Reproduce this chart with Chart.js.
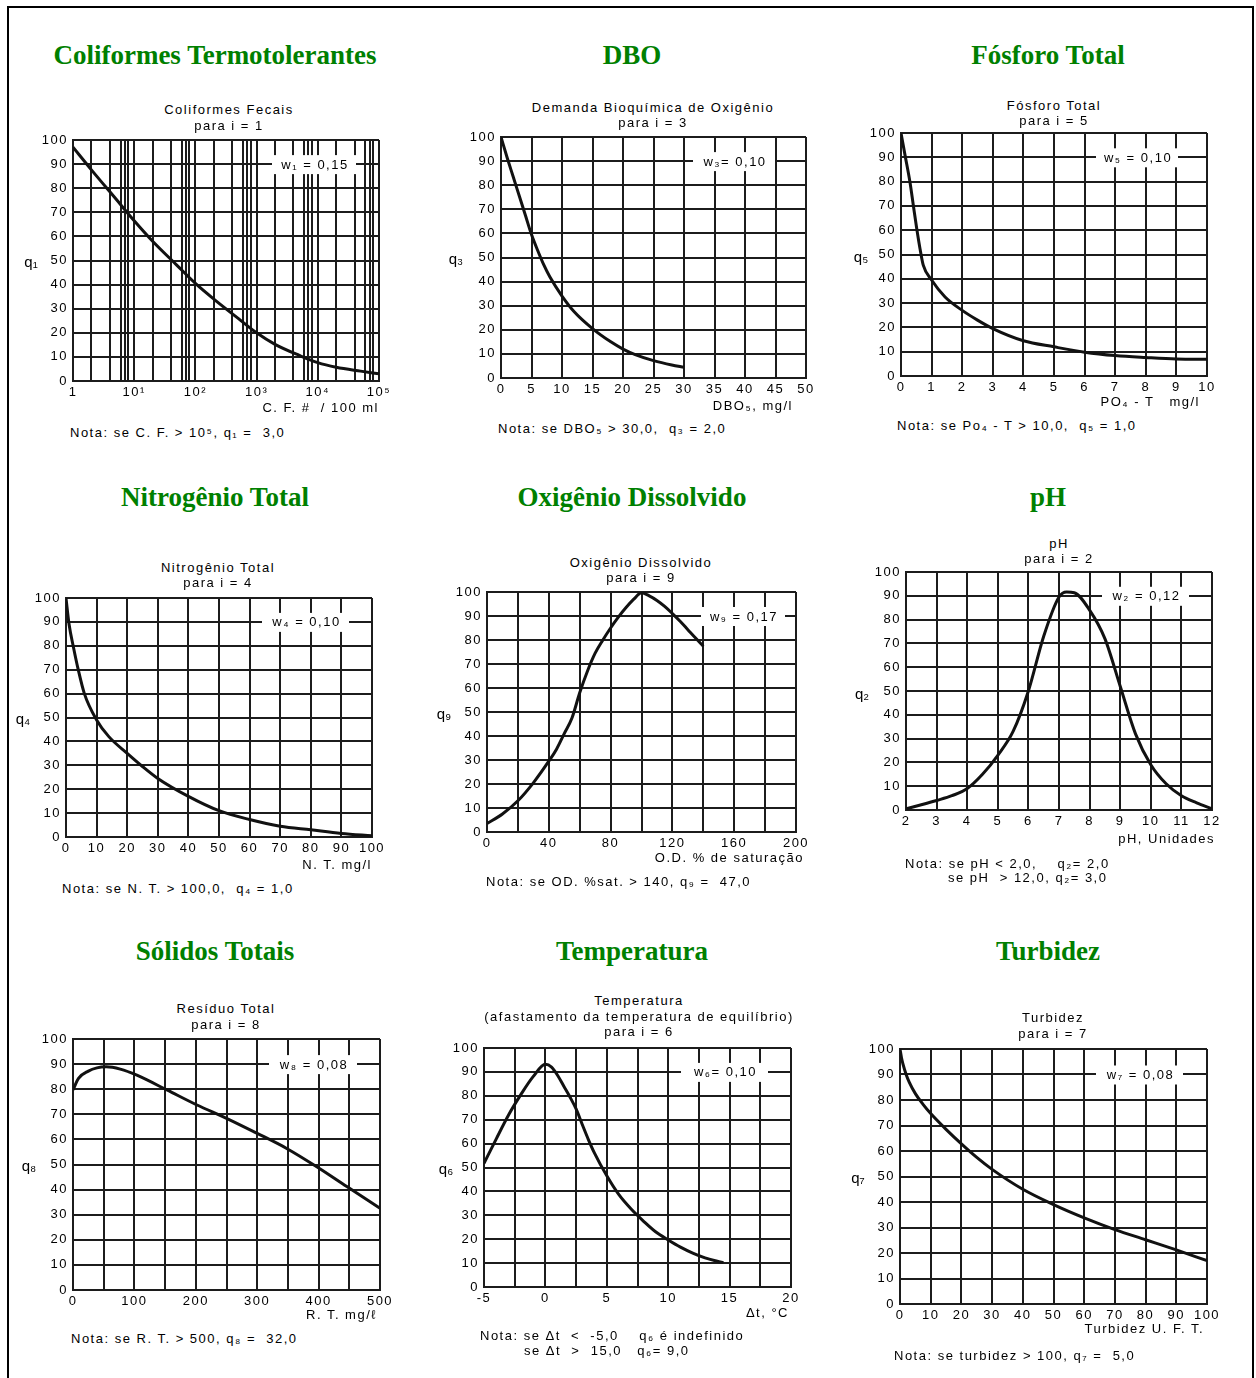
<!DOCTYPE html>
<html lang="pt">
<head>
<meta charset="utf-8">
<script src="https://cdn.jsdelivr.net/npm/chart.js@4.4.1/dist/chart.umd.min.js"></script>
<style>
html, body { margin: 0; padding: 0; background: #fff; }
#pagina { position: relative; width: 1256px; height: 1378px; overflow: hidden; background: #fff; }
#moldura { position: absolute; left: 7px; top: 6px; width: 1243px; height: 1400px; border: 2px solid #000; }
.t { position: absolute; white-space: pre; font-family: "Liberation Sans", Arial, sans-serif; font-size: 13px; letter-spacing: 1.5px; color: #000; line-height: 15px; }
.q { font-size: 15px; letter-spacing: 0; }
.titulo { position: absolute; white-space: pre; font-family: "Liberation Serif", "Times New Roman", serif; font-weight: bold; font-size: 27px; color: #008000; line-height: 30px; }
canvas { position: absolute; }
</style>
</head>
<body>
<div id="pagina"><div id="moldura"></div></div>
<script>

// valores (x, q)
var coliX = [1, 2, 5, 10, 20, 50, 100, 200, 500, 1000, 2000, 5000, 10000, 20000, 50000, 100000];
var coliQ = [97, 87.6, 75.6, 66.5, 58, 48, 40.5, 34, 26, 20, 15.2, 10.6, 7.6, 5.7, 4.1, 3];
var coliGrade = [1,2,4,6,7,8, 10,20,40,60,70,80, 100,200,400,600,700,800, 1000,2000,4000,6000,7000,8000, 10000,20000,40000,60000,70000,80000, 100000];
var coliRotulos = { 1: '1', 10: '10¹', 100: '10²', 1000: '10³', 10000: '10⁴', 100000: '10⁵' };

var dboX = [0, 1, 2, 3, 4, 5, 6, 7, 8, 10, 12, 15, 18, 20, 22, 25, 28, 30];
var dboQ = [100, 91.5, 83.5, 75.5, 67.5, 59.5, 53, 47, 42, 34, 27.5, 20.5, 15, 12, 9.7, 7.2, 5.4, 4.5];

var fosX = [0, 0.13, 0.29, 0.4, 0.51, 0.62, 0.73, 1, 1.44, 2, 2.5, 3, 4, 5, 6, 7, 8, 9, 10];
var fosQ = [100, 91, 80, 70.5, 61, 52.5, 45.5, 39.5, 32.5, 27, 23, 19.5, 14.5, 12, 9.8, 8.4, 7.6, 7, 6.9];

var nitX = [0, 1, 2.5, 4, 6, 10, 14, 20, 25, 30, 40, 50, 60, 70, 80, 90, 100];
var nitQ = [100, 89, 79, 70, 60, 49, 42, 35, 29.5, 24.5, 17, 11, 7.3, 4.5, 3, 1.5, 0.5];

var odX = [0, 10, 20, 30, 40, 45, 50, 55, 60, 65, 70, 75, 80, 85, 90, 95, 100, 105, 110, 115, 120, 125, 130, 135, 140];
var odQ = [3.5, 7.5, 13, 20.5, 29.5, 34.5, 41, 47.5, 58, 67, 74.5, 80, 85, 89.5, 93.5, 97, 99.7, 98.4, 96.5, 94, 91, 87.8, 84.3, 80.8, 77.4];

var phX = [2, 2.5, 3, 3.5, 4, 4.5, 5, 5.5, 6, 6.5, 7, 7.25, 7.5, 8, 8.5, 9, 9.5, 10, 10.5, 11, 11.5, 12];
var phQ = [0.5, 2.2, 4, 6, 9, 15, 23, 33, 50, 73, 89.5, 91.6, 91.3, 84, 72, 52, 32, 19, 11, 6, 3, 0.5];

var solX = [0, 9, 25, 39, 54, 77, 104, 153, 202, 250, 300, 348, 397, 446, 500];
var solQ = [79.7, 84.3, 87.2, 88.5, 88.9, 88, 85.6, 79.7, 73.7, 68.4, 62.4, 56.4, 49.1, 41.2, 32.6];

var tempX = [-5, -4, -3, -2, -1, 0, 0.5, 1, 1.5, 2, 2.5, 3, 3.5, 4, 5, 6, 7, 8, 9, 10, 11, 12, 13, 14, 14.5];
var tempQ = [51.7, 62, 72, 80.5, 88, 93.2, 92, 88.5, 84, 79.5, 74.5, 68, 61.7, 56, 46.5, 38.5, 32.5, 27.5, 23, 19.7, 16.7, 14.2, 12.2, 10.8, 10.2];

var turX = [0, 0.5, 1, 2, 3, 5, 7.5, 10, 15, 20, 25, 30, 40, 50, 60, 70, 80, 90, 100];
var turQ = [100, 96.5, 94, 90, 87, 82.5, 78.3, 74.7, 68.5, 62.8, 57.5, 52.8, 45, 39, 33.8, 29.2, 25.2, 21.2, 17];

var pesos = ['w₁ = 0,15', 'w₃= 0,10', 'w₅ = 0,10', 'w₄ = 0,10', 'w₉ = 0,17', 'w₂ = 0,12', 'w₈ = 0,08', 'w₆= 0,10', 'w₇ = 0,08'];

var pagina = document.getElementById('pagina');
var PADL = 50, PADT = 12, PADR = 24, PADB = 26;
var COR = '#1c1c1c';
var FAMILIA = '"Liberation Sans", Arial, sans-serif';

var texto = function(s, x, y, alinha, classe){
	var d = document.createElement('div');
	d.className = classe || 't';
	d.textContent = s;
	d.style.left = x + 'px';
	d.style.top = y + 'px';
	var tx = alinha === 'c' ? '-50%' : (alinha === 'r' ? '-100%' : '0');
	d.style.transform = 'translate(' + tx + ',-50%)';
	pagina.appendChild(d);
};

var caixaPeso = {
	id: 'caixaPeso',
	beforeDraw: function(chart){
		chart.ctx.letterSpacing = '1.5px';
	},
	beforeDatasetsDraw: function(chart, args, opts){
		var ctx = chart.ctx, a = chart.chartArea;
		var yy = chart.scales.y.getPixelForValue(90);
		var x0 = a.right - opts.gap - opts.largura;
		ctx.save();
		ctx.fillStyle = '#fff';
		ctx.fillRect(x0, yy - 9, opts.largura, 19);
		ctx.fillStyle = '#000';
		ctx.font = '13px ' + FAMILIA;
		ctx.letterSpacing = '1.5px';
		ctx.textAlign = 'center';
		ctx.textBaseline = 'middle';
		ctx.fillText(opts.texto, x0 + opts.largura / 2 + 1, yy + 1);
		ctx.restore();
	}
};

var zerarPadding = function(scale){
	scale.paddingLeft = 0; scale.paddingRight = 0;
	scale.paddingTop = 0; scale.paddingBottom = 0;
};

var painel = function(r, eixoX, xs, qs, peso, gap, largura){
	var w = (r[2] - r[0]) + PADL + PADR;
	var h = (r[3] - r[1]) + PADT + PADB;
	var c = document.createElement('canvas');
	c.width = w; c.height = h;
	c.style.left = (r[0] - PADL) + 'px';
	c.style.top = (r[1] - PADT) + 'px';
	c.style.width = w + 'px'; c.style.height = h + 'px';
	pagina.appendChild(c);

	var pontos = [];
	for (var i = 0; i < xs.length; i++) {
		pontos.push({ x: xs[i], y: qs[i] });
	}

	var fonte = { family: FAMILIA, size: 13 };

	var x = {
		type: eixoX.tipo || 'linear',
		min: eixoX.min,
		max: eixoX.max,
		grid: { color: COR, lineWidth: 2, drawTicks: false },
		border: { color: COR, width: 2 },
		ticks: {
			color: '#000', font: fonte, padding: 4, autoSkip: false, maxRotation: 0,
			stepSize: eixoX.passo,
			callback: eixoX.rotulo
		},
		afterFit: function(s){ s.height = PADB; zerarPadding(s); }
	};
	if (eixoX.grade) {
		x.afterBuildTicks = function(s){
			s.ticks = eixoX.grade.map(function(v){ return { value: v }; });
		};
	}

	return new Chart(c, {
		type: 'line',
		data: {
			datasets: [{
				data: pontos,
				borderColor: '#111',
				borderWidth: 3,
				pointRadius: 0,
				cubicInterpolationMode: 'monotone',
				fill: false
			}]
		},
		options: {
			responsive: false,
			animation: false,
			devicePixelRatio: 1,
			events: [],
			layout: { padding: { left: 0, top: PADT, right: PADR, bottom: 0 } },
			scales: {
				x: x,
				y: {
					min: 0, max: 100,
					grid: { color: COR, lineWidth: 2, drawTicks: false },
					border: { color: COR, width: 2 },
					ticks: { color: '#000', font: fonte, padding: 5, stepSize: 10, autoSkip: false },
					afterFit: function(s){ s.width = PADL; zerarPadding(s); }
				}
			},
			plugins: {
				legend: { display: false },
				tooltip: { enabled: false },
				caixaPeso: { texto: peso, gap: gap, largura: largura }
			}
		},
		plugins: [caixaPeso]
	});
};

var cada = function(n){ return function(v){ return (v % n === 0) ? String(v) : ''; }; };

// linha 1
painel([73, 140, 379, 381], { tipo: 'logarithmic', min: 1, max: 100000, grade: coliGrade,
	rotulo: function(v){ return coliRotulos[v] || ''; } }, coliX, coliQ, pesos[0], 23, 84);
painel([501, 137, 806, 378], { min: 0, max: 50, passo: 5 }, dboX, dboQ, pesos[1], 31, 82);
painel([901, 133, 1207, 376], { min: 0, max: 10, passo: 1 }, fosX, fosQ, pesos[2], 29, 82);

// linha 2
painel([66, 598, 372, 837], { min: 0, max: 100, passo: 10 }, nitX, nitQ, pesos[3], 23, 87);
painel([487, 592, 796, 832], { min: 0, max: 200, passo: 20, rotulo: cada(40) }, odX, odQ, pesos[4], 11, 84);
painel([906, 572, 1212, 810], { min: 2, max: 12, passo: 1 }, phX, phQ, pesos[5], 23, 87);

// linha 3
painel([73, 1039, 380, 1290], { min: 0, max: 500, passo: 50, rotulo: cada(100) }, solX, solQ, pesos[6], 23, 88);
painel([484, 1048, 791, 1287], { min: -5, max: 20, passo: 2.5, rotulo: cada(5) }, tempX, tempQ, pesos[7], 23, 87);
painel([900, 1049, 1207, 1304], { min: 0, max: 100, passo: 10 }, turX, turQ, pesos[8], 24, 87);

// titulos verdes
texto('Coliformes Termotolerantes', 215, 55, 'c', 'titulo');
texto('DBO', 632, 55, 'c', 'titulo');
texto('Fósforo Total', 1048, 55, 'c', 'titulo');
texto('Nitrogênio Total', 215, 497, 'c', 'titulo');
texto('Oxigênio Dissolvido', 632, 497, 'c', 'titulo');
texto('pH', 1048, 497, 'c', 'titulo');
texto('Sólidos Totais', 215, 951, 'c', 'titulo');
texto('Temperatura', 632, 951, 'c', 'titulo');
texto('Turbidez', 1048, 951, 'c', 'titulo');

// subtitulos
texto('Coliformes Fecais', 229, 109, 'c'); texto('para i = 1', 229, 125, 'c');
texto('Demanda Bioquímica de Oxigênio', 653, 107, 'c'); texto('para i = 3', 653, 122, 'c');
texto('Fósforo Total', 1054, 105, 'c'); texto('para i = 5', 1054, 120, 'c');
texto('Nitrogênio Total', 218, 567, 'c'); texto('para i = 4', 218, 582, 'c');
texto('Oxigênio Dissolvido', 641, 562, 'c'); texto('para i = 9', 641, 577, 'c');
texto('pH', 1059, 543, 'c'); texto('para i = 2', 1059, 558, 'c');
texto('Resíduo Total', 226, 1008, 'c'); texto('para i = 8', 226, 1024, 'c');
texto('Temperatura', 639, 1000, 'c');
texto('(afastamento da temperatura de equilíbrio)', 639, 1016, 'c');
texto('para i = 6', 639, 1031, 'c');
texto('Turbidez', 1053, 1017, 'c'); texto('para i = 7', 1053, 1033, 'c');

// eixo y
texto('q₁', 31, 261, 'c', 't q'); texto('q₃', 456, 258, 'c', 't q'); texto('q₅', 861, 256, 'c', 't q');
texto('q₄', 23, 718, 'c', 't q'); texto('q₉', 444, 713, 'c', 't q'); texto('q₂', 862, 693, 'c', 't q');
texto('q₈', 29, 1165, 'c', 't q'); texto('q₆', 446, 1168, 'c', 't q'); texto('q₇', 858, 1177, 'c', 't q');

// eixo x
texto('C. F. #  / 100 ml', 379, 407, 'r');
texto('DBO₅, mg/l', 793, 405, 'r');
texto('PO₄ - T   mg/l', 1200, 401, 'r');
texto('N. T. mg/l', 372, 864, 'r');
texto('O.D. % de saturação', 804, 857, 'r');
texto('pH, Unidades', 1215, 838, 'r');
texto('R. T. mg/ℓ', 377, 1314, 'r');
texto('Δt, °C', 789, 1312, 'r');
texto('Turbidez U. F. T.', 1204, 1328, 'r');

// notas
texto('Nota: se C. F. > 10⁵, q₁ =  3,0', 70, 432);
texto('Nota: se DBO₅ > 30,0,  q₃ = 2,0', 498, 428);
texto('Nota: se Po₄ - T > 10,0,  q₅ = 1,0', 897, 425);
texto('Nota: se N. T. > 100,0,  q₄ = 1,0', 62, 888);
texto('Nota: se OD. %sat. > 140, q₉ =  47,0', 486, 881);
texto('Nota: se pH < 2,0,    q₂= 2,0', 905, 863);
texto('se pH  > 12,0, q₂= 3,0', 948, 877);
texto('Nota: se R. T. > 500, q₈ =  32,0', 71, 1338);
texto('Nota: se Δt  <  -5,0    q₆ é indefinido', 480, 1335);
texto('se Δt  >  15,0   q₆= 9,0', 524, 1350);
texto('Nota: se turbidez > 100, q₇ =  5,0', 894, 1355);

</script>
</body>
</html>
